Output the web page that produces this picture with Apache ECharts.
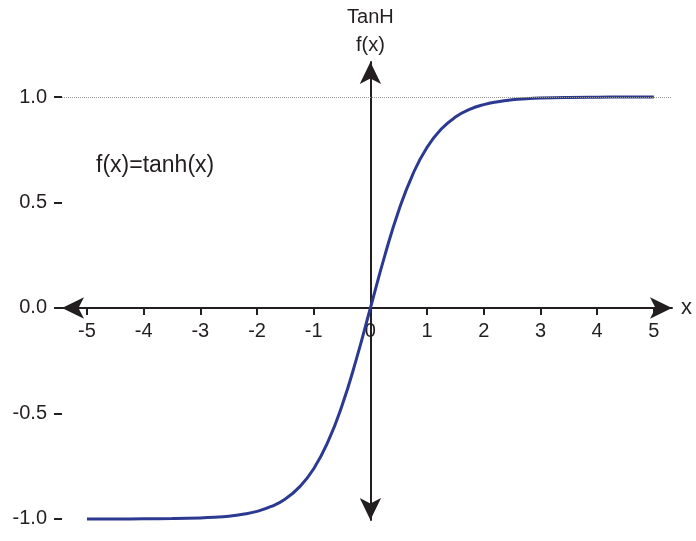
<!DOCTYPE html>
<html>
<head>
<meta charset="utf-8">
<script src="https://cdn.jsdelivr.net/npm/echarts@6/dist/echarts.min.js"></script>
<style>
  html, body { margin: 0; padding: 0; background: #fff; }
  #chart-tanh { width: 696px; height: 541px; }
</style>
</head>
<body>
<div id="chart-tanh"></div>
<script>
// values
var xValues = [-5, -4.5, -4, -3.5, -3, -2.75, -2.5, -2.25, -2, -1.75, -1.5, -1.25, -1, -0.75, -0.5, -0.25,
  0, 0.25, 0.5, 0.75, 1, 1.25, 1.5, 1.75, 2, 2.25, 2.5, 2.75, 3, 3.5, 4, 4.5, 5];
var yValues = [-0.9999, -0.9998, -0.9993, -0.998, -0.995, -0.992, -0.987, -0.978, -0.964, -0.941, -0.905, -0.848, -0.762, -0.635, -0.462, -0.245,
  0, 0.245, 0.462, 0.635, 0.762, 0.848, 0.905, 0.941, 0.964, 0.978, 0.987, 0.992, 0.995, 0.998, 0.9993, 0.9998, 0.9999];
var xTicks = [-5, -4, -3, -2, -1, 0, 1, 2, 3, 4, 5];
var yTicks = [-1, -0.5, 0, 0.5, 1];

var ink = "#231f20";
var font = "'Liberation Sans', Arial, sans-serif";
var xMin = -5.44, xMax = 5.32;
var yMin = -1.005, yMax = 1.166;

var chartDom = document.getElementById("chart-tanh");
var myChart = echarts.init(chartDom);

var points = xValues.map(function (x, i) {
  return [x, yValues[i]];
});

var option = {
  animation: false,
  textStyle: { fontFamily: font, color: ink },
  title: {
    text: "f(x)=tanh(x)",
    left: 91,
    top: 149,
    textStyle: { fontFamily: font, fontSize: 23, fontWeight: "normal", color: ink }
  },
  grid: [
    // main plot area
    { left: 62, right: 24, top: 62, bottom: 21, containLabel: false, outerBoundsMode: "none" },
    // helper grid whose bottom edge sits on y = 0, carries the x tick labels
    { left: 62, right: 24, top: 62, bottom: 233, containLabel: false, outerBoundsMode: "none" }
  ],
  xAxis: [
    {
      type: "value",
      gridIndex: 0,
      min: xMin,
      max: xMax,
      name: "x",
      nameLocation: "end",
      nameGap: 9,
      nameTextStyle: { fontSize: 22, color: ink, fontFamily: font },
      splitLine: { show: false },
      axisLine: {
        show: true,
        onZero: true,
        symbol: ["arrow", "arrow"],
        symbolSize: [16, 22],
        symbolOffset: [0, 0],
        lineStyle: { color: ink, width: 2 }
      },
      axisTick: {
        show: true,
        customValues: xTicks,
        length: 7,
        lineStyle: { color: ink, width: 2 }
      },
      axisLabel: { show: false }
    },
    {
      type: "value",
      gridIndex: 1,
      min: xMin,
      max: xMax,
      position: "bottom",
      splitLine: { show: false },
      axisLine: { show: false, onZero: false },
      axisTick: { show: false },
      axisLabel: {
        customValues: xTicks,
        margin: 13,
        fontSize: 20,
        color: ink,
        formatter: function (v) { return String(v); }
      }
    }
  ],
  yAxis: [
    {
      type: "value",
      gridIndex: 0,
      min: yMin,
      max: yMax,
      position: "left",
      splitLine: { show: false },
      axisLine: { show: false, onZero: false },
      axisTick: {
        show: true,
        customValues: yTicks,
        length: 8,
        lineStyle: { color: ink, width: 2 }
      },
      axisLabel: {
        customValues: yTicks,
        margin: 15,
        fontSize: 20,
        color: ink,
        formatter: function (v) { return v.toFixed(1); }
      }
    },
    {
      type: "value",
      gridIndex: 0,
      min: yMin,
      max: yMax,
      name: "TanH\nf(x)",
      nameLocation: "end",
      nameGap: 3,
      nameTextStyle: { fontSize: 20, lineHeight: 28, color: ink, fontFamily: font, align: "center" },
      splitLine: { show: false },
      axisLine: {
        show: true,
        onZero: true,
        symbol: ["arrow", "arrow"],
        symbolSize: [16, 22],
        symbolOffset: [0, 0],
        lineStyle: { color: ink, width: 2 }
      },
      axisTick: { show: false },
      axisLabel: { show: false }
    },
    {
      type: "value",
      gridIndex: 1,
      min: 0,
      max: 1,
      show: false
    }
  ],
  series: [
    {
      name: "tanh",
      type: "line",
      xAxisIndex: 0,
      yAxisIndex: 0,
      data: points,
      smooth: true,
      showSymbol: false,
      lineStyle: { color: "#2b3990", width: 3 },
      z: 3,
      markLine: {
        silent: true,
        symbol: "none",
        label: { show: false },
        lineStyle: { type: "dotted", color: "#9a9a9a", width: 1 },
        data: [{ yAxis: 1 }]
      }
    }
  ]
};

myChart.setOption(option);
</script>
</body>
</html>
